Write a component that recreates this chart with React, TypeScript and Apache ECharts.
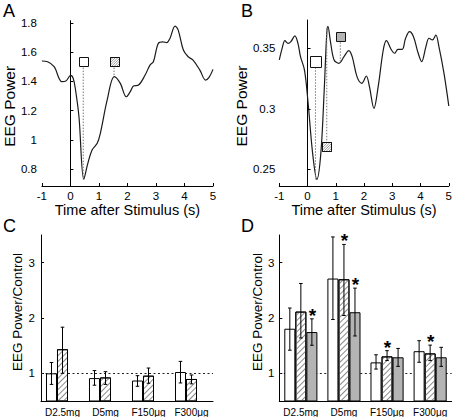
import React, { useEffect, useRef } from 'react';
import * as echarts from 'echarts';

// ---------- Panel A: EEG power trace ----------
const timeA = [-1, -0.8, -0.57, -0.3, -0.16, 0.01, 0.1, 0.18, 0.3, 0.47, 0.61, 0.76, 0.94, 1.05, 1.29, 1.54, 1.75, 1.96, 2.1, 2.21, 2.39, 2.62, 2.79, 2.91, 3.08, 3.24, 3.38, 3.49, 3.67, 3.78, 3.96, 4.13, 4.3, 4.54, 4.74, 4.86, 5.0];
const powerA = [1.539, 1.534, 1.5, 1.398, 1.402, 1.441, 1.42, 1.341, 1.159, 0.732, 0.84, 0.932, 0.977, 1.045, 1.273, 1.432, 1.386, 1.295, 1.33, 1.368, 1.375, 1.443, 1.511, 1.534, 1.659, 1.67, 1.664, 1.693, 1.777, 1.75, 1.614, 1.568, 1.545, 1.477, 1.409, 1.427, 1.482];

// ---------- Panel B: EEG power trace ----------
const timeB = [-1, -0.9, -0.8, -0.69, -0.59, -0.45, -0.34, -0.25, -0.11, 0.01, 0.18, 0.33, 0.47, 0.59, 0.68, 0.72, 0.82, 0.94, 1.11, 1.29, 1.46, 1.58, 1.75, 1.92, 2.08, 2.19, 2.35, 2.5, 2.68, 2.79, 2.97, 3.08, 3.2, 3.35, 3.47, 3.61, 3.75, 3.9, 4.04, 4.19, 4.3, 4.42, 4.54, 4.65, 4.83, 5.0];
const powerB = [0.3404, 0.35, 0.3563, 0.3541, 0.3555, 0.3602, 0.3541, 0.3431, 0.3321, 0.3073, 0.2632, 0.2417, 0.2632, 0.3156, 0.3624, 0.3682, 0.3541, 0.3404, 0.3376, 0.3431, 0.3481, 0.3431, 0.3266, 0.3211, 0.3271, 0.3183, 0.3004, 0.3183, 0.3486, 0.3563, 0.3486, 0.3459, 0.3492, 0.3492, 0.3583, 0.3638, 0.3596, 0.3472, 0.339, 0.3514, 0.3583, 0.3569, 0.361, 0.3514, 0.3293, 0.3023];

// markers (square position and the curve value they point at); kind 0 open, 1 hatched, 2 gray
const markerTimeA = [0.45, 1.53];
const markerTopA = [1.535, 1.535];
const markerCurveA = [0.732, 1.432];
const markerKindA = [0, 1];

const markerTimeB = [0.28, 0.68, 1.16];
const markerTopB = [0.3393, 0.269, 0.3599];
const markerCurveB = [0.2417, 0.3682, 0.3376];
const markerKindB = [0, 1, 2];

// ticks
const ticksTime = [-1, 0, 1, 2, 3, 4, 5];
const ticksA = [0.8, 1, 1.2, 1.4, 1.6, 1.8];
const ticksB = [0.25, 0.3, 0.35];
const ticksRatio = [1, 2, 3];

// ---------- Panels C and D: bars ----------
const categories = ['D2.5mg', 'D5mg', 'F150μg', 'F300μg'];

const cOpen = [1.0, 0.914, 0.87, 1.024];
const cOpenLow = [0.8, 0.785, 0.766, 0.826];
const cOpenHigh = [1.196, 1.05, 0.958, 1.216];
const cHatched = [1.436, 0.926, 0.958, 0.898];
const cHatchedLow = [1.0, 0.8, 0.82, 0.81];
const cHatchedHigh = [1.834, 1.03, 1.096, 0.97];

const dOpen = [1.806, 2.713, 1.198, 1.4];
const dOpenLow = [1.418, 1.973, 1.077, 1.2];
const dOpenHigh = [2.18, 3.465, 1.335, 1.59];
const dHatched = [2.116, 2.7, 1.306, 1.36];
const dHatchedLow = [1.639, 2.045, 1.23, 1.23];
const dHatchedHigh = [2.624, 3.33, 1.41, 1.51];
const dHatchedStar = [0, 1, 1, 1];
const dGray = [1.746, 2.104, 1.29, 1.29];
const dGrayLow = [1.507, 1.675, 1.126, 1.126];
const dGrayHigh = [1.985, 2.54, 1.45, 1.47];
const dGrayStar = [1, 1, 0, 0];

const FONT = '"Liberation Sans", Arial, Helvetica, sans-serif';
const BAR_FRAC = 0.256;
const GRAY = '#b4b4b4';
const TICK_FONT = 11.5;

const hatch = {
  symbol: 'rect',
  symbolSize: 1,
  dashArrayX: [1, 0],
  dashArrayY: [0.8, 2.2],
  rotation: -Math.PI / 4,
  color: '#8a8a8a',
};

const grids = [
  { left: 41, top: 20.7, width: 172, height: 165.3 },
  { left: 279.3, top: 20, width: 172.4, height: 166 },
  { left: 41, top: 235, width: 172, height: 167 },
  { left: 279.3, top: 235, width: 172.4, height: 167 },
];

function yAxis(gridIndex: number, min: number, max: number, ticks: number[], name: string, nameGap: number, nameSize: number, margin: number, namePad: number[]) {
  return {
    type: 'value',
    gridIndex,
    min,
    max,
    name,
    nameLocation: 'middle',
    nameGap,
    nameTextStyle: { fontSize: nameSize, color: '#000', fontFamily: FONT, padding: namePad },
    axisLine: { show: true, lineStyle: { color: '#000', width: 1 } },
    axisTick: { show: true, inside: true, length: 3, customValues: ticks, lineStyle: { color: '#000' } },
    axisLabel: { customValues: ticks, fontSize: TICK_FONT, color: '#000', fontFamily: FONT, margin },
    splitLine: { show: false },
  };
}

function timeAxis(gridIndex: number) {
  return {
    type: 'value',
    gridIndex,
    min: -1,
    max: 5,
    interval: 1,
    name: 'Time after Stimulus (s)',
    nameLocation: 'middle',
    nameGap: 16,
    nameTextStyle: { fontSize: 14.5, color: '#000', fontFamily: FONT },
    axisLine: { show: true, onZero: false, lineStyle: { color: '#000', width: 1 } },
    axisTick: { show: true, inside: true, length: 3, customValues: ticksTime, lineStyle: { color: '#000' } },
    axisLabel: { customValues: ticksTime, fontSize: TICK_FONT, color: '#000', fontFamily: FONT, margin: 4 },
    splitLine: { show: false },
  };
}

function catAxis(gridIndex: number) {
  return {
    type: 'category',
    gridIndex,
    data: categories,
    axisLine: { show: true, onZero: false, lineStyle: { color: '#000', width: 1 } },
    axisTick: { show: false },
    axisLabel: { fontSize: 10, color: '#000', fontFamily: FONT, margin: 6, interval: 0 },
    splitLine: { show: false },
  };
}

function markerSeries(idx: number, times: number[], tops: number[], curves: number[], kinds: number[], sizes: number[]) {
  const out: any[] = [];
  times.forEach((t, i) => {
    out.push({
      type: 'line',
      xAxisIndex: idx,
      yAxisIndex: idx,
      data: [[t, tops[i]], [t, curves[i]]],
      showSymbol: false,
      symbol: 'none',
      lineStyle: { color: '#777', width: 1, type: [1.5, 1.5] },
      z: 3,
      silent: true,
    });
  });
  out.push({
    type: 'custom',
    xAxisIndex: idx,
    yAxisIndex: idx,
    data: times.map((t, i) => [t, tops[i], kinds[i], sizes[i]]),
    encode: { x: 0, y: 1 },
    z: 4,
    silent: true,
    renderItem: (params: any, api: any) => {
      const p = api.coord([api.value(0), api.value(1)]);
      const kind = api.value(2);
      const s = api.value(3);
      const x0 = Math.round(p[0] - s / 2) + 0.5;
      const y0 = Math.round(p[1] - s / 2) + 0.5;
      const children: any[] = [
        {
          type: 'rect',
          shape: { x: x0, y: y0, width: s, height: s },
          style: { fill: kind === 2 ? GRAY : '#fff', stroke: '#111', lineWidth: 1 },
        },
      ];
      if (kind === 1) {
        const step = 2.5;
        for (let d = step; d < 2 * s; d += step) {
          const ax = Math.max(0, d - s);
          const ay = Math.min(d, s);
          const bx = Math.min(d, s);
          const by = Math.max(0, d - s);
          children.push({
            type: 'line',
            shape: { x1: x0 + ax, y1: y0 + ay, x2: x0 + bx, y2: y0 + by },
            style: { stroke: '#888', lineWidth: 0.8 },
          });
        }
        children.push({
          type: 'rect',
          shape: { x: x0, y: y0, width: s, height: s },
          style: { fill: 'none', stroke: '#111', lineWidth: 1 },
        });
      }
      return { type: 'group', children };
    },
  });
  return out;
}

function errorSeries(idx: number, rows: number[][]) {
  return {
    type: 'custom',
    xAxisIndex: idx,
    yAxisIndex: idx,
    data: rows,
    encode: { x: 0, y: [2, 3] },
    z: 6,
    silent: true,
    renderItem: (params: any, api: any) => {
      const cat = api.value(0);
      const k = api.value(1);
      const lo = api.value(2);
      const hi = api.value(3);
      const star = api.value(4);
      const band = api.size([1, 0])[0];
      const bw = band * BAR_FRAC;
      const pLo = api.coord([cat, lo]);
      const pHi = api.coord([cat, hi]);
      const x = pLo[0] + (k - 1) * bw;
      const cap = 1.8;
      const st = { stroke: '#000', lineWidth: 1 };
      const children: any[] = [
        { type: 'line', shape: { x1: x, y1: pLo[1], x2: x, y2: pHi[1] }, style: st },
        { type: 'line', shape: { x1: x - cap, y1: pLo[1], x2: x + cap, y2: pLo[1] }, style: st },
        { type: 'line', shape: { x1: x - cap, y1: pHi[1], x2: x + cap, y2: pHi[1] }, style: st },
      ];
      if (star) {
        children.push({
          type: 'text',
          x: x + 0.5,
          y: pHi[1] - 3.5,
          style: { text: '*', fontSize: 19, fontWeight: 'bold', fontFamily: FONT, fill: '#000', align: 'center', verticalAlign: 'middle' },
        });
      }
      return { type: 'group', children };
    },
  };
}

function rows(lo: number[], hi: number[], k: number, stars?: number[]) {
  return lo.map((l, i) => [i, k, l, hi[i], stars ? stars[i] : 0]);
}

function barSeries(idx: number, data: (number | string)[], kind: string, withRef: boolean) {
  const itemStyle: any = { color: kind === 'gray' ? GRAY : '#fff', borderColor: '#000', borderWidth: 1 };
  if (kind === 'hatched') itemStyle.decal = hatch;
  const s: any = {
    type: 'bar',
    xAxisIndex: idx,
    yAxisIndex: idx,
    data,
    barWidth: (BAR_FRAC * 100).toFixed(1) + '%',
    barGap: '0%',
    itemStyle,
    z: 2,
    silent: true,
  };
  if (withRef) {
    s.markLine = {
      silent: true,
      symbol: 'none',
      z: 1,
      label: { show: false },
      lineStyle: { color: '#222', type: [2, 2.5], width: 1 },
      data: [{ yAxis: 1 }],
    };
  }
  return s;
}

function lineTrace(idx: number, t: number[], v: number[]) {
  return {
    type: 'line',
    xAxisIndex: idx,
    yAxisIndex: idx,
    data: t.map((x, i) => [x, v[i]]),
    smooth: 0.35,
    showSymbol: false,
    symbol: 'none',
    lineStyle: { color: '#1a1a1a', width: 1.2 },
    z: 2,
    silent: true,
  };
}

const letter = (text: string, left: number, top: number) => ({
  type: 'text',
  left,
  top,
  style: { text, fontSize: 18, fontFamily: FONT, fill: '#000' },
});

export default function App() {
  const ref = useRef<HTMLDivElement>(null);
  useEffect(() => {
    if (!ref.current) return;
    const chart = echarts.init(ref.current, undefined, { renderer: 'svg' });
    const empty = categories.map(() => '-');
    chart.setOption({
      animation: false,
      backgroundColor: '#fff',
      grid: grids,
      xAxis: [timeAxis(0), timeAxis(1), catAxis(2), catAxis(3)],
      yAxis: [
        yAxis(0, 0.686, 1.814, ticksA, 'EEG Power', 17, 15.5, 5, [0, 6, 0, 0]),
        yAxis(1, 0.2362, 0.3734, ticksB, 'EEG Power', 21, 15.5, 4, [0, 6, 0, 0]),
        yAxis(2, 0.5, 3.5, ticksRatio, 'EEG Power/Control', 16, 13.5, 6, [0, 0, 0, 12]),
        yAxis(3, 0.5, 3.5, ticksRatio, 'EEG Power/Control', 10, 13.5, 5, [0, 0, 0, 12]),
      ],
      graphic: [letter('A', 3, 2), letter('B', 241, 2), letter('C', 3, 217), letter('D', 241, 217)],
      series: [
        lineTrace(0, timeA, powerA),
        lineTrace(1, timeB, powerB),
        ...markerSeries(0, markerTimeA, markerTopA, markerCurveA, markerKindA, [9, 9]),
        ...markerSeries(1, markerTimeB, markerTopB, markerCurveB, markerKindB, [11, 9, 9]),
        barSeries(2, cOpen, 'open', true),
        barSeries(2, cHatched, 'hatched', false),
        barSeries(2, empty, 'gray', false),
        errorSeries(2, [...rows(cOpenLow, cOpenHigh, 0), ...rows(cHatchedLow, cHatchedHigh, 1)]),
        barSeries(3, dOpen, 'open', true),
        barSeries(3, dHatched, 'hatched', false),
        barSeries(3, dGray, 'gray', false),
        errorSeries(3, [...rows(dOpenLow, dOpenHigh, 0), ...rows(dHatchedLow, dHatchedHigh, 1, dHatchedStar), ...rows(dGrayLow, dGrayHigh, 2, dGrayStar)]),
      ],
    });
    return () => chart.dispose();
  }, []);
  return <div ref={ref} style={{ position: 'absolute', left: 0, top: 0, width: 455, height: 417 }} />;
}
